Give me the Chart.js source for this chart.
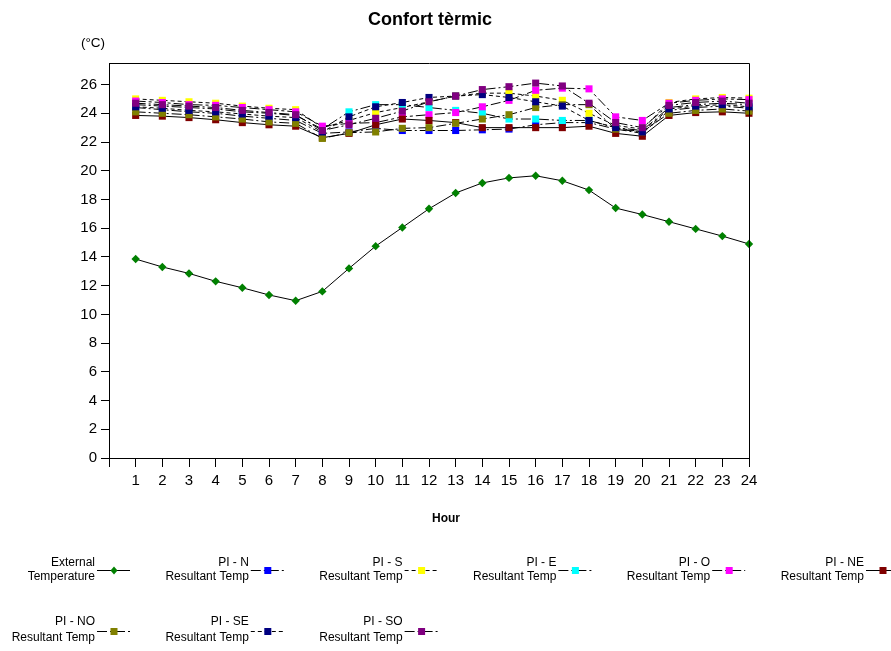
<!DOCTYPE html>
<html>
<head>
<meta charset="utf-8">
<script src="https://cdn.jsdelivr.net/npm/chart.js@4"></script>
<style>
html,body{margin:0;padding:0;background:#fff;}
#wrap{width:891px;height:651px;position:relative;}
</style>
</head>
<body>
<div id="wrap"><canvas id="c" width="891" height="651"></canvas></div>
<script>
// ---------- DATA ----------
const chartTitle = 'Confort tèrmic';
const yUnit = '(°C)';
const xTitle = 'Hour';
const hours = [1,2,3,4,5,6,7,8,9,10,11,12,13,14,15,16,17,18,19,20,21,22,23,24];
const xTickValues = [0,1,2,3,4,5,6,7,8,9,10,11,12,13,14,15,16,17,18,19,20,21,22,23,24];
const yTickValues = [0,2,4,6,8,10,12,14,16,18,20,22,24,26];

const externalTemp = [13.85,13.3,12.85,12.3,11.85,11.35,10.95,11.6,13.2,14.75,16.05,17.35,18.45,19.15,19.5,19.65,19.3,18.65,17.4,16.95,16.45,15.95,15.45,14.9];
const piN  = [24.4,24.25,24.1,24.0,23.8,23.65,23.5,22.6,22.7,22.95,22.8,22.8,22.8,22.85,22.9,23.2,23.35,23.35,22.9,22.6,24.2,24.4,24.5,24.35];
const piS  = [25.0,24.9,24.8,24.7,24.5,24.35,24.25,23.0,23.5,24.05,24.4,24.8,25.2,25.4,25.4,25.2,24.9,24.0,23.15,22.9,24.75,25.0,25.1,25.05];
const piE  = [24.6,24.5,24.4,24.3,24.1,24.0,23.85,22.9,24.1,24.6,24.6,24.4,24.2,24.0,23.6,23.6,23.5,23.5,23.0,22.8,24.4,24.6,24.7,24.6];
const piO  = [24.85,24.75,24.6,24.55,24.4,24.25,24.1,23.1,23.3,23.35,23.75,23.9,24.05,24.45,24.9,25.6,25.75,25.7,23.75,23.5,24.7,24.9,25.0,24.95];
const piNE = [23.85,23.8,23.7,23.55,23.35,23.2,23.1,22.3,22.6,23.2,23.6,23.5,23.35,23.0,23.0,23.0,23.0,23.1,22.6,22.4,23.85,24.05,24.1,24.0];
const piNO = [24.1,24.0,23.9,23.75,23.6,23.4,23.3,22.25,22.65,22.7,22.95,23.0,23.3,23.6,23.9,24.4,24.6,24.6,22.9,22.7,24.0,24.2,24.3,24.15];
const piSE = [24.45,24.35,24.2,24.1,23.95,23.8,23.7,22.7,23.75,24.45,24.75,25.1,25.2,25.3,25.1,24.8,24.5,23.5,23.0,22.7,24.3,24.5,24.6,24.45];
const piSO = [24.7,24.6,24.5,24.4,24.2,24.05,23.9,22.8,23.2,23.65,24.15,24.8,25.2,25.65,25.85,26.1,25.9,24.7,23.35,23.0,24.55,24.75,24.85,24.7];

const seriesLine1 = ['External','PI - N','PI - S','PI - E','PI - O','PI - NE','PI - NO','PI - SE','PI - SO'];
const seriesLine2 = ['Temperature','Resultant Temp','Resultant Temp','Resultant Temp','Resultant Temp','Resultant Temp','Resultant Temp','Resultant Temp','Resultant Temp'];
const seriesValues = [externalTemp,piN,piS,piE,piO,piNE,piNO,piSE,piSO];

// ---------- STYLE ----------
const FONT = "'Liberation Sans', Arial, Helvetica, sans-serif";
const markerColors = ['#008000','#0000ff','#ffff00','#00ffff','#ff00ff','#800000','#808000','#000080','#800080'];
const markerStyles = ['rectRot','rect','rect','rect','rect','rect','rect','rect','rect'];
const dashes = [[],[10,3,2,3],[4,3],[10,3,2,3],[10,3,3,3],[],[10,3,2,3],[4,3],[10,3,2,3]];

const datasets = seriesValues.map((vals,i)=>({
  label: seriesLine1[i] + ' ' + seriesLine2[i],
  data: hours.map((h,k)=>({x:h,y:vals[k]})),
  borderColor:'#000',
  borderWidth:1,
  borderDash:dashes[i],
  backgroundColor:markerColors[i],
  pointBackgroundColor:markerColors[i],
  pointBorderColor:markerColors[i],
  pointBorderWidth:0,
  pointStyle:markerStyles[i],
  pointRadius: i===0 ? 4.2 : 5,
  pointHoverRadius: i===0 ? 4.2 : 5,
  tension:0,
  fill:false,
  clip:false,
  order: seriesValues.length - i
}));

const decor = {
  id:'decor',
  afterDraw(chart){
    const ctx = chart.ctx, a = chart.chartArea;
    ctx.save();
    // frame
    ctx.strokeStyle = '#000'; ctx.lineWidth = 1; ctx.setLineDash([]);
    ctx.beginPath();
    ctx.moveTo(Math.round(a.left)+0.5, Math.round(a.bottom)+0.5);
    ctx.lineTo(Math.round(a.left)+0.5, Math.round(a.top)+0.5);
    ctx.lineTo(Math.round(a.right)+0.5, Math.round(a.top)+0.5);
    ctx.lineTo(Math.round(a.right)+0.5, Math.round(a.bottom)+0.5);
    ctx.stroke();
    // titles
    ctx.fillStyle = '#000';
    ctx.textAlign = 'center'; ctx.textBaseline = 'middle';
    ctx.font = 'bold 18px ' + FONT;
    ctx.fillText(chartTitle, 430, 20);
    ctx.font = '13.5px ' + FONT;
    ctx.fillText(yUnit, 93, 43);
    ctx.font = 'bold 12px ' + FONT;
    ctx.fillText(xTitle, 446, 519);
    // legend
    chart.data.datasets.forEach((ds,i)=>{
      const col = i % 6, row = Math.floor(i/6);
      const tr = 95 + col*153.8;
      const y1 = row===0 ? 563 : 622;
      const y2 = row===0 ? 577 : 638;
      const ly = row===0 ? 570 : 631;
      ctx.font = '12px ' + FONT;
      ctx.fillStyle = '#000';
      ctx.textAlign = 'right'; ctx.textBaseline = 'middle';
      ctx.fillText(seriesLine1[i], tr, y1);
      ctx.fillText(seriesLine2[i], tr, y2);
      ctx.strokeStyle = '#000'; ctx.lineWidth = 1;
      ctx.setLineDash(ds.borderDash);
      ctx.beginPath();
      ctx.moveTo(tr+2, ly+0.5); ctx.lineTo(tr+35, ly+0.5);
      ctx.stroke();
      ctx.setLineDash([]);
      ctx.fillStyle = ds.pointBackgroundColor;
      ctx.beginPath();
      if (ds.pointStyle==='rect'){
        ctx.fillRect(tr+15.5, ly-3, 7, 7);
      } else {
        ctx.moveTo(tr+19, ly-3.5); ctx.lineTo(tr+22.5, ly+0.5); ctx.lineTo(tr+19, ly+4.5); ctx.lineTo(tr+15.5, ly+0.5); ctx.closePath(); ctx.fill();
      }
    });
    ctx.restore();
  }
};

new Chart(document.getElementById('c'), {
  type:'line',
  data:{ datasets },
  options:{
    responsive:false,
    animation:false,
    devicePixelRatio:1,
    layout:{ padding:{ top:63, right:142, left:0, bottom:0 } },
    plugins:{ legend:{display:false}, title:{display:false}, tooltip:{enabled:false} },
    scales:{
      x:{
        type:'linear', min:0, max:24,
        afterFit(s){ s.height = 193; },
        afterBuildTicks(s){ s.ticks = xTickValues.map(v=>({value:v})); },
        grid:{ drawOnChartArea:false, drawTicks:true, tickLength:9, tickColor:'#000', color:'#000' },
        border:{ display:true, color:'#000', width:1 },
        ticks:{ autoSkip:false, maxRotation:0, padding:5, color:'#000', font:{family:FONT, size:15},
          callback:(v)=> v===0 ? '' : String(v) }
      },
      y:{
        type:'linear', min:0, max:27.5,
        afterFit(s){ s.width = 109; },
        afterBuildTicks(s){ s.ticks = yTickValues.map(v=>({value:v})); },
        grid:{ drawOnChartArea:false, drawTicks:true, tickLength:8, tickColor:'#000', color:'#000' },
        border:{ display:true, color:'#000', width:1 },
        ticks:{ padding:4, color:'#000', font:{family:FONT, size:15} }
      }
    }
  },
  plugins:[decor]
});
</script>
</body>
</html>
